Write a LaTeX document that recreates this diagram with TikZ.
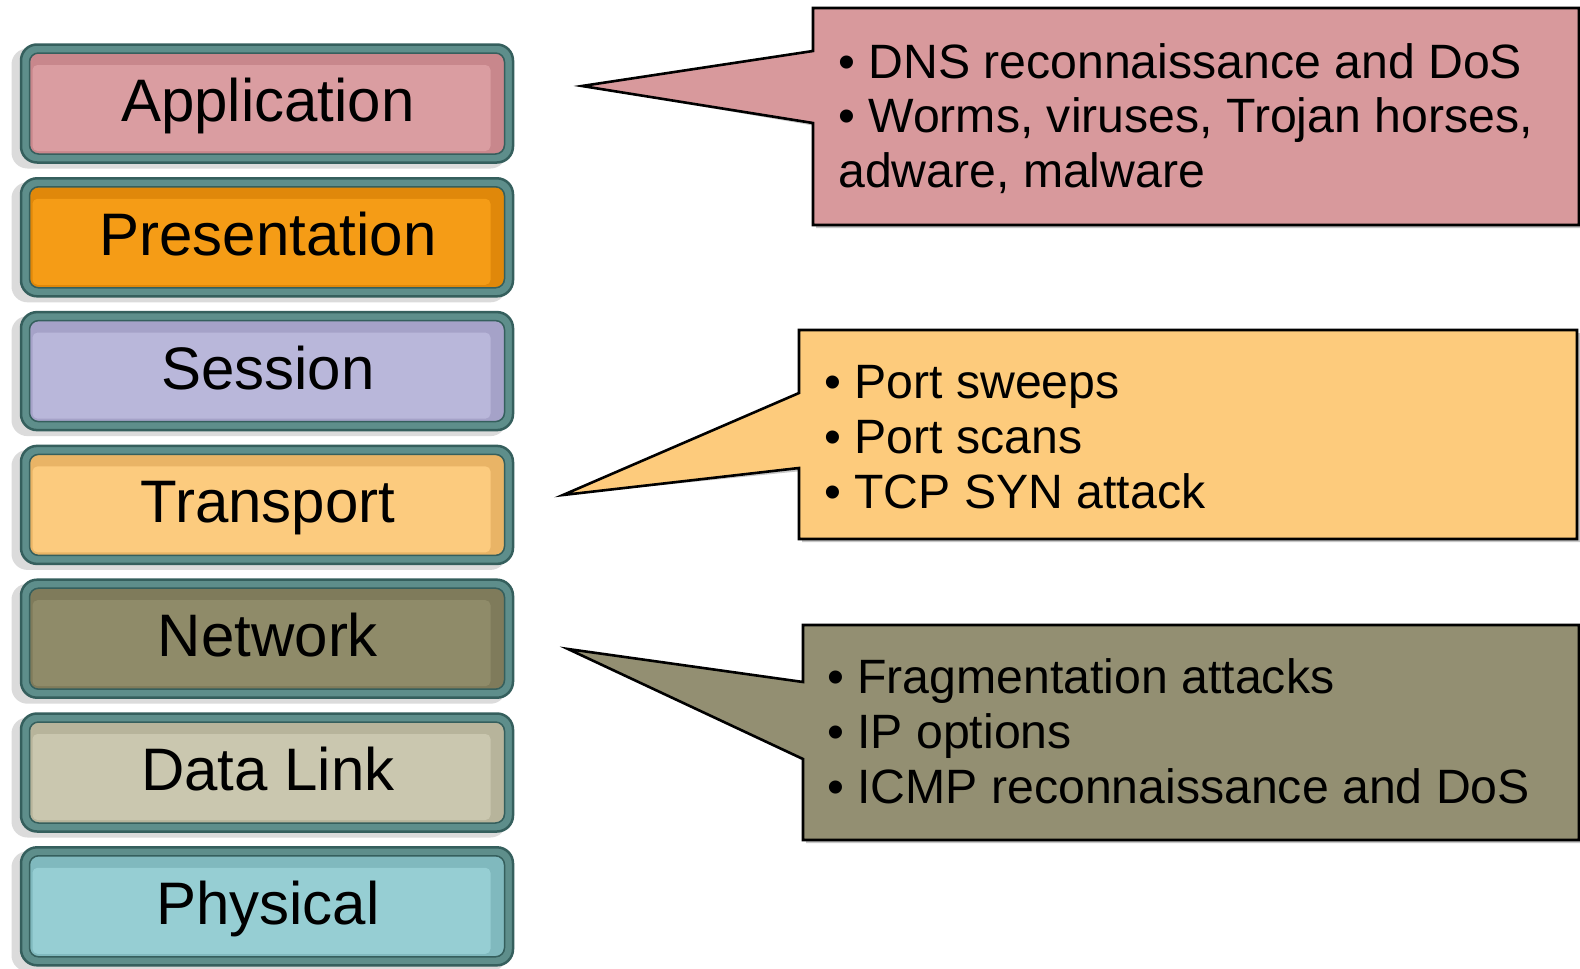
\documentclass[tikz,border=0pt]{standalone}
\usepackage{fontspec}
\setmainfont{Liberation Sans}
\definecolor{tealdark}{HTML}{355F5D}
\definecolor{tealmid}{HTML}{5E8E8B}
\definecolor{appL}{HTML}{DA9DA1}
\definecolor{appD}{HTML}{C8878C}
\definecolor{preL}{HTML}{F59C16}
\definecolor{preD}{HTML}{E0880A}
\definecolor{sesL}{HTML}{B9B7DA}
\definecolor{sesD}{HTML}{A5A2C8}
\definecolor{traL}{HTML}{FCCB7E}
\definecolor{traD}{HTML}{E9B466}
\definecolor{netL}{HTML}{8F8B69}
\definecolor{netD}{HTML}{7F7B5B}
\definecolor{datL}{HTML}{CAC7AF}
\definecolor{datD}{HTML}{B7B49B}
\definecolor{phyL}{HTML}{96CED3}
\definecolor{phyD}{HTML}{80B9BE}
\definecolor{cPink}{HTML}{D8999C}
\definecolor{cYel}{HTML}{FDCB7C}
\definecolor{cOli}{HTML}{938F72}
\begin{document}
\begin{tikzpicture}[x=1pt,y=-1pt,
  layershadow/.style={fill=black!14, draw=none, rounded corners=16pt, minimum width=495pt, minimum height=120pt, inner sep=0pt},
  layerouter/.style={draw=tealdark, line width=2.5pt, fill=tealmid, rounded corners=16pt, minimum width=492pt, minimum height=118pt, inner sep=0pt},
  layerinner/.style={draw=tealdark, line width=1.5pt, rounded corners=9pt, minimum width=475pt, minimum height=101pt, inner sep=0pt},
  layerhi/.style={draw=none, rounded corners=5pt, minimum width=458pt, minimum height=86pt, inner sep=0pt},
  layertext/.style={font=\fontsize{60}{72}\selectfont, anchor=base, inner sep=0pt},
  callout/.style={draw=black, line width=2.6pt, line join=miter},
  calloutshadow/.style={fill=black!22, draw=none},
  bullettext/.style={font=\fontsize{48.2}{55}\selectfont, anchor=base west, inner sep=0pt},
]
\useasboundingbox (0,0) rectangle (1580,969);
\fill[white] (0,0) rectangle (1580,969);

\foreach \n/\t/\cl/\cd [count=\i from 0] in {
  app/Application/appL/appD,
  pre/Presentation/preL/preD,
  ses/Session/sesL/sesD,
  tra/Transport/traL/traD,
  net/Network/netL/netD,
  dat/Data Link/datL/datD,
  phy/Physical/phyL/phyD}{
  \pgfmathsetmacro\cy{103.5+133.8*\i}
  \node[layershadow] (\n-sh) at (259,\cy+5) {};
  \node[layerouter] (\n) at (267,\cy) {};
  \node[layerinner, fill=\cd] (\n-in) at (267,\cy) {};
  \node[layerhi, fill=\cl] (\n-hi) at (261.5,\cy+4.5) {};
  \node[layertext] (\n-txt) at (268,\cy+18) {\t};
}

% callout 1
\coordinate (c1tip) at (582,86);
\fill[calloutshadow, shift={(3,3)}] (813,8) -- (1579,8) -- (1579,225) -- (813,225) -- (813,123) -- (c1tip) -- (813,51) -- cycle;
\filldraw[callout, fill=cPink] (813,8) -- (1579,8) -- (1579,225) -- (813,225) -- (813,123) -- (c1tip) -- (813,51) -- cycle;
\node[bullettext] (c1a) at (838,78) {• DNS reconnaissance and DoS};
\node[bullettext] (c1b) at (838,132.5) {• Worms, viruses, Trojan horses,};
\node[bullettext] (c1c) at (838,187) {adware, malware};

% callout 2
\coordinate (c2tip) at (563,495);
\fill[calloutshadow, shift={(3,3)}] (799,330) -- (1577,330) -- (1577,539) -- (799,539) -- (799,468) -- (c2tip) -- (799,393) -- cycle;
\filldraw[callout, fill=cYel] (799,330) -- (1577,330) -- (1577,539) -- (799,539) -- (799,468) -- (c2tip) -- (799,393) -- cycle;
\node[bullettext] (c2a) at (824,398) {• Port sweeps};
\node[bullettext] (c2b) at (824,453) {• Port scans};
\node[bullettext] (c2c) at (824,508) {• TCP SYN attack};

% callout 3
\coordinate (c3tip) at (568,649);
\fill[calloutshadow, shift={(3,3)}] (803,625) -- (1579,625) -- (1579,840) -- (803,840) -- (803,759) -- (c3tip) -- (803,682) -- cycle;
\filldraw[callout, fill=cOli] (803,625) -- (1579,625) -- (1579,840) -- (803,840) -- (803,759) -- (c3tip) -- (803,682) -- cycle;
\node[bullettext] (c3a) at (827,693) {• Fragmentation attacks};
\node[bullettext] (c3b) at (827,748) {• IP options};
\node[bullettext] (c3c) at (827,803) {• ICMP reconnaissance and DoS};
\end{tikzpicture}
\end{document}
